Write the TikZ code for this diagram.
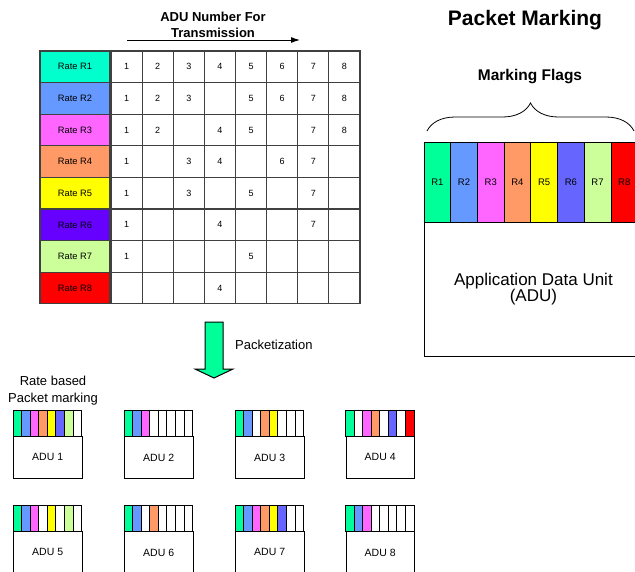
\documentclass[tikz,border=0pt]{standalone}
\usepackage{fontspec}
\setmainfont{Liberation Sans}
\usetikzlibrary{decorations.pathreplacing,arrows.meta}

% rate colours used in the rate table
\definecolor{t1}{HTML}{00FFCC}
\definecolor{t2}{HTML}{6699FF}
\definecolor{t3}{HTML}{FF66FF}
\definecolor{t4}{HTML}{FF9966}
\definecolor{t5}{HTML}{FFFF00}
\definecolor{t6}{HTML}{6600FF}
\definecolor{t7}{HTML}{CCFF99}
\definecolor{t8}{HTML}{FF0000}
% rate colours used for the marking flags
\definecolor{f1}{HTML}{00FF99}
\definecolor{f2}{HTML}{6699FF}
\definecolor{f3}{HTML}{FF66FF}
\definecolor{f4}{HTML}{FF9966}
\definecolor{f5}{HTML}{FFFF00}
\definecolor{f6}{HTML}{6666FF}
\definecolor{f7}{HTML}{CCFF99}
\definecolor{f8}{HTML}{FF0000}
\definecolor{gridc}{HTML}{404040}

\tikzset{
  grid cell/.style={draw=gridc, line width=1.2pt, minimum width=31.125pt,
    minimum height=31.6pt, inner sep=0pt},
  num/.style={inner sep=0pt, font=\fontsize{9}{10}\selectfont},
  rate cell/.style={draw=gridc, line width=1.2pt, minimum width=70pt,
    minimum height=31.6pt, inner sep=0pt, font=\fontsize{9.3}{11}\selectfont},
  flag/.style={draw=black, line width=0.8pt, minimum width=26.7pt,
    minimum height=80pt, inner sep=0pt, font=\fontsize{9.5}{11}\selectfont},
  mini flag/.style={draw=black, line width=0.8pt, minimum width=8.5625pt,
    minimum height=26pt, inner sep=0pt},
  adu box/.style={draw=black, line width=0.8pt, minimum width=68.5pt,
    minimum height=42pt, inner sep=0pt, font=\fontsize{10.5}{12}\selectfont},
  plain text/.style={inner sep=0pt, align=center},
}

\begin{document}
\begin{tikzpicture}[x=1pt, y=-1pt]
\useasboundingbox (0,0) rectangle (635,571);

% ---- rate table ----
\node[plain text, font=\fontsize{13}{16}\selectfont\bfseries] (ttl) at (213,25)
  {ADU Number For\\Transmission};
\coordinate (ta) at (127,40);
\coordinate (tb) at (300,40);
\draw[line width=1pt, -{Latex[length=9pt,width=6pt]}] (ta) -- (tb);

\foreach \r/\nums in {1/{1,2,3,4,5,6,7,8}, 2/{1,2,3,5,6,7,8}, 3/{1,2,4,5,7,8},
    4/{1,3,4,6,7}, 5/{1,3,5,7}, 6/{1,4,7}, 7/{1,5}, 8/{4}}{
  \node[rate cell, fill=t\r] (L\r) at (75,{51+(\r-0.5)*31.6}) {Rate R\r};
  \foreach \j in {1,...,8}
    \node[grid cell] (C\r-\j) at ({111+(\j-0.5)*31.125},{51+(\r-0.5)*31.6}) {};
  \foreach \j in \nums
    \node[num] (N\r-\j) at (C\r-\j) {\j};
}

% ---- packet marking ----
\node[plain text, font=\fontsize{21}{24}\selectfont\bfseries] (pm) at (525,20)
  {Packet Marking};
\node[plain text, font=\fontsize{15.5}{18}\selectfont\bfseries] (mf) at (530,77)
  {Marking Flags};
\coordinate (bl) at (427,131);
\coordinate (br) at (634,131);
\draw[line width=0.8pt, decorate, decoration={brace, amplitude=28pt}] (bl) -- (br);

\foreach \k in {1,...,8}
  \node[flag, fill=f\k] (F\k) at ({424+(\k-0.5)*26.7},182) {R\k};
\node[draw=black, line width=0.8pt, minimum width=218pt, minimum height=134pt,
  anchor=north west, inner sep=0pt, align=center,
  font=\fontsize{17}{16}\selectfont] (adu) at (424,222)
  {Application Data Unit\\(ADU)};

% ---- packetization arrow ----
\draw[line width=1pt, fill=f1] (205,322) -- (223,322) -- (223,369) -- (233,369)
  -- (214,378) -- (195,369) -- (205,369) -- cycle;
\node[plain text, anchor=west, font=\fontsize{13}{14}\selectfont] (pz) at (235,345)
  {Packetization};

% ---- marked packets ----
\node[plain text, font=\fontsize{13}{17}\selectfont] (rb) at (53,391)
  {Rate based\\Packet marking};

\foreach \p/\x/\y/\rates in {1/13/410/{1,2,3,4,5,6,7}, 2/124/410/{1,2,3},
    3/235/410/{1,2,4,5}, 4/345.5/410/{1,3,4,6,8}, 5/13/505/{1,2,3,5,7},
    6/124/505/{1,2,4}, 7/235/505/{1,2,3,4,5,6}, 8/345.5/505/{1,2,3}}{
  \foreach \j in {1,...,8}
    \node[mini flag, fill=white] (P\p-\j) at ({\x+(\j-0.5)*8.5625},{\y+13}) {};
  \foreach \k in \rates
    \node[mini flag, fill=f\k] (Q\p-\k) at (P\p-\k) {};
  \node[adu box, anchor=north west] (A\p) at (\x,{\y+26}) {ADU \p};
}
\end{tikzpicture}
\end{document}
